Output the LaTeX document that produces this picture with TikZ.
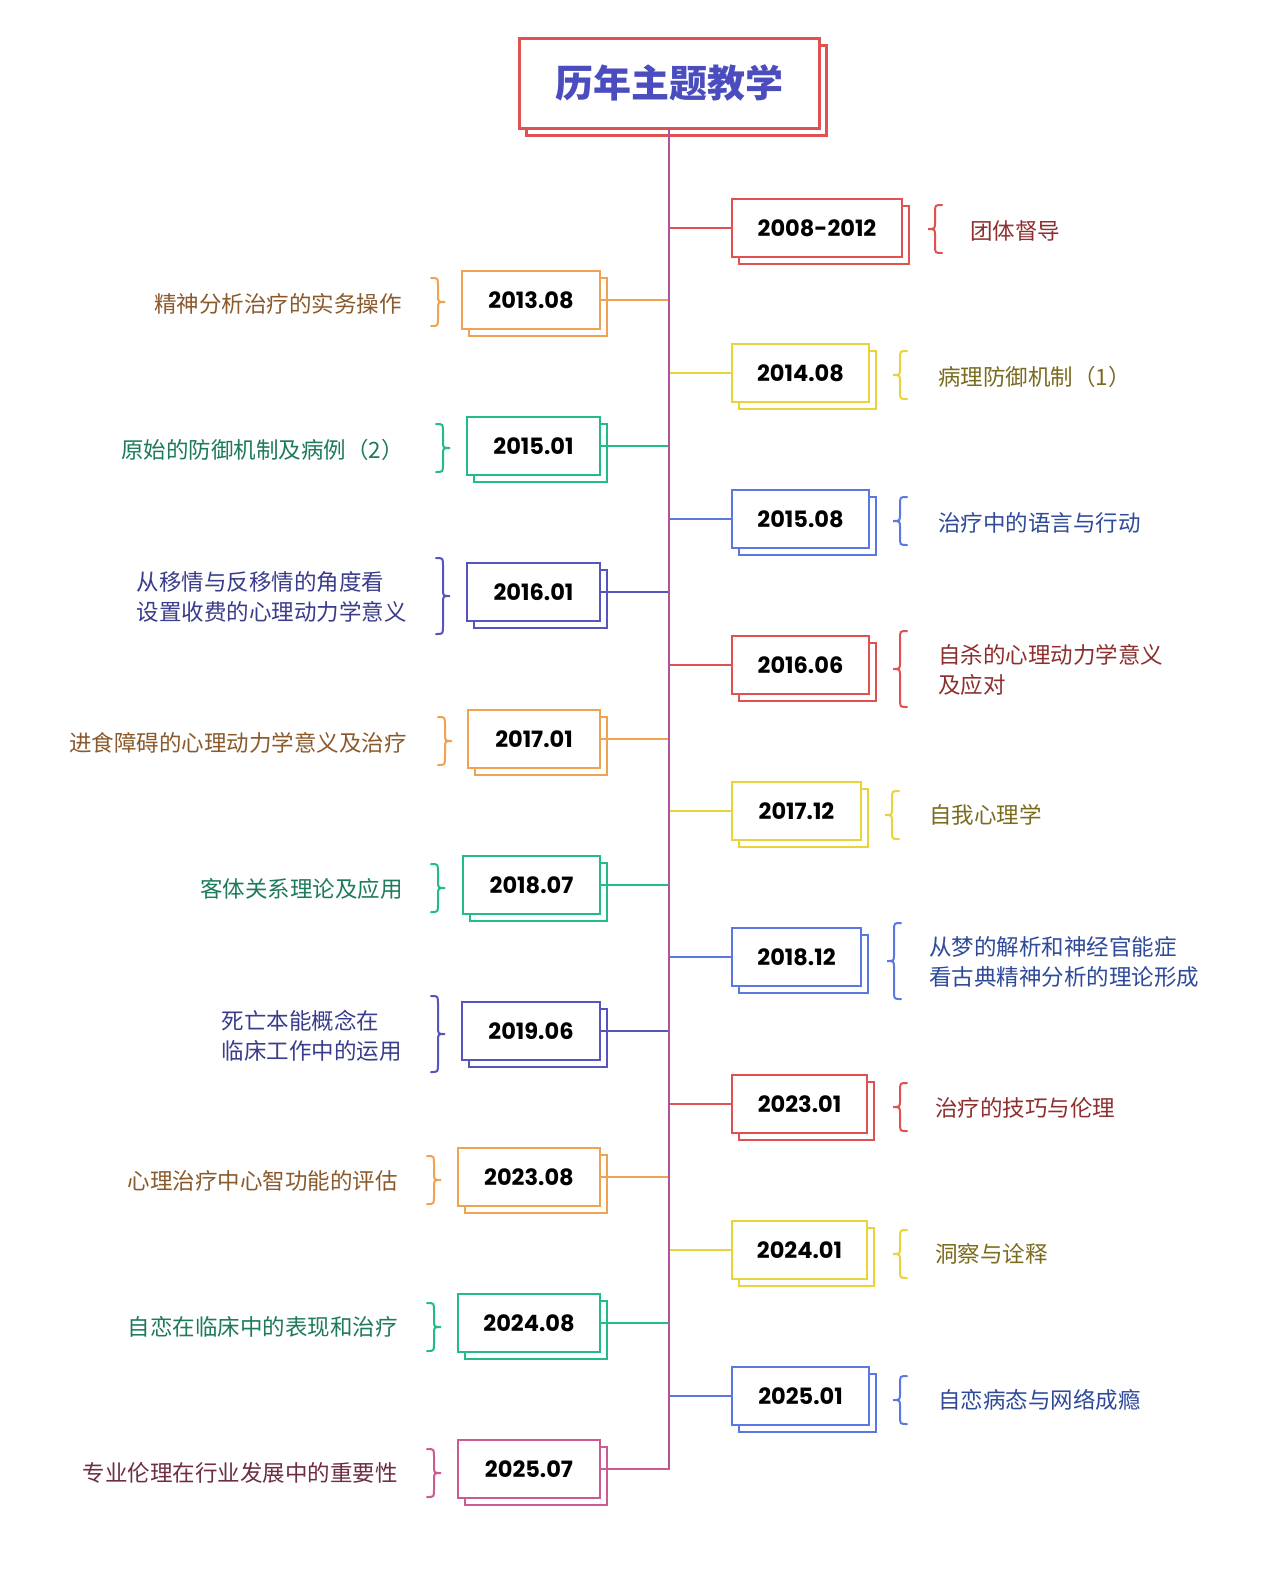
\documentclass[tikz,border=0pt]{standalone}
\usepackage{fontspec}
\setmainfont{Noto Sans CJK SC}
\newfontfamily\cjk{Noto Sans CJK SC}
\newfontfamily\datefont{Poppins}
\usetikzlibrary{calc}
\definecolor{cRed}{HTML}{E05252}
\definecolor{cOrange}{HTML}{EFA24F}
\definecolor{cYellow}{HTML}{E9D33A}
\definecolor{cGreen}{HTML}{22BB8C}
\definecolor{cBlue}{HTML}{5A78E2}
\definecolor{cIndigo}{HTML}{5655BE}
\definecolor{cMagenta}{HTML}{CC5A95}
\definecolor{cTrunk}{HTML}{AE549A}
\definecolor{cTitle}{HTML}{4B4DBF}
\definecolor{tRed}{HTML}{8E2F2F}
\definecolor{tOrange}{HTML}{8A5A2C}
\definecolor{tYellow}{HTML}{7A6B1F}
\definecolor{tGreen}{HTML}{1D7A5C}
\definecolor{tBlue}{HTML}{2E4A99}
\definecolor{tIndigo}{HTML}{3A3C8C}
\definecolor{tMagenta}{HTML}{6E2D45}
\tikzset{
  datebox/.style={draw=#1, line width=2.5pt, fill=white, minimum height=58pt, inner sep=0pt,
    font=\datefont\bfseries\fontsize{22.5}{26}\selectfont, text=black},
  shadowbox/.style={draw=#1, line width=2.5pt, fill=white},
  branch/.style={draw=#1, line width=2pt},
  brc/.style={draw=#1, line width=2pt, line cap=round},
  rlabel/.style={anchor=west, inner sep=0pt, text=#1, font=\cjk\fontsize{22.5}{30}\selectfont, align=left},
  llabel/.style={anchor=east, inner sep=0pt, text=#1, font=\cjk\fontsize{22.5}{30}\selectfont, align=left},
}
% #1 name, #2 cx, #3 cy, #4 width, #5 colour, #6 text
\newcommand\ditem[6]{%
  \draw[shadowbox=#5] ({#2-#4/2+7},{#3-29+7}) rectangle ({#2+#4/2+7},{#3+29+7});
  \node[datebox=#5, minimum width=#4pt] (#1) at (#2,#3) {#6};
}
% "{" brace: #1 tip x, #2 cy, #3 height, #4 colour
\newcommand\bropen[4]{%
  \draw[brc=#4] ({#1+14},{#2-#3/2}) .. controls ({#1+7},{#2-#3/2}) .. ({#1+7},{#2-#3/2+8})
    -- ({#1+7},{#2-7}) .. controls ({#1+7},{#2}) .. (#1,#2)
    .. controls ({#1+7},{#2}) .. ({#1+7},{#2+7})
    -- ({#1+7},{#2+#3/2-8}) .. controls ({#1+7},{#2+#3/2}) .. ({#1+14},{#2+#3/2});
}
% "}" brace: #1 tip x, #2 cy, #3 height, #4 colour
\newcommand\brclose[4]{%
  \draw[brc=#4] ({#1-14},{#2-#3/2}) .. controls ({#1-7},{#2-#3/2}) .. ({#1-7},{#2-#3/2+8})
    -- ({#1-7},{#2-7}) .. controls ({#1-7},{#2}) .. (#1,#2)
    .. controls ({#1-7},{#2}) .. ({#1-7},{#2+7})
    -- ({#1-7},{#2+#3/2-8}) .. controls ({#1-7},{#2+#3/2}) .. ({#1-14},{#2+#3/2});
}
\begin{document}
\begin{tikzpicture}[x=1pt,y=-1pt]
\useasboundingbox[fill=white] (0,0) rectangle (1271,1569);
% title
\draw[line width=3pt, draw=cRed, fill=white] (526,45) rectangle (826,135);
\node[draw=cRed, line width=3pt, fill=white, minimum width=300pt, minimum height=90pt, inner sep=0pt,
  text=cTitle, font=\cjk\bfseries\fontsize{38}{40}\selectfont] (title) at (669,83) {历年主题教学};

% date boxes
\ditem{a1}{817}{228}{170}{cRed}{2008-2012}
\ditem{a2}{531}{300}{138}{cOrange}{2013.08}
\ditem{a3}{800.5}{373}{137}{cYellow}{2014.08}
\ditem{a4}{533.5}{446}{133}{cGreen}{2015.01}
\ditem{a5}{800.5}{519}{137}{cBlue}{2015.08}
\ditem{a6}{533.5}{592}{133}{cIndigo}{2016.01}
\ditem{a7}{800.5}{665}{137}{cRed}{2016.06}
\ditem{a8}{534}{739}{132}{cOrange}{2017.01}
\ditem{a9}{796.5}{811}{129}{cYellow}{2017.12}
\ditem{a10}{531.5}{885}{137}{cGreen}{2018.07}
\ditem{a11}{796.5}{957}{129}{cBlue}{2018.12}
\ditem{a12}{531}{1031}{138}{cIndigo}{2019.06}
\ditem{a13}{799.5}{1104}{135}{cRed}{2023.01}
\ditem{a14}{529}{1177}{142}{cOrange}{2023.08}
\ditem{a15}{799.5}{1250}{135}{cYellow}{2024.01}
\ditem{a16}{529}{1323}{142}{cGreen}{2024.08}
\ditem{a17}{800.5}{1396}{137}{cBlue}{2025.01}
\ditem{a18}{529}{1469}{142}{cMagenta}{2025.07}

% branches
\draw[branch=cRed] (a1.west -| title.south) -- (a1.west);
\draw[branch=cOrange] (a2.east -| title.south) -- (a2.east);
\draw[branch=cYellow] (a3.west -| title.south) -- (a3.west);
\draw[branch=cGreen] (a4.east -| title.south) -- (a4.east);
\draw[branch=cBlue] (a5.west -| title.south) -- (a5.west);
\draw[branch=cIndigo] (a6.east -| title.south) -- (a6.east);
\draw[branch=cRed] (a7.west -| title.south) -- (a7.west);
\draw[branch=cOrange] (a8.east -| title.south) -- (a8.east);
\draw[branch=cYellow] (a9.west -| title.south) -- (a9.west);
\draw[branch=cGreen] (a10.east -| title.south) -- (a10.east);
\draw[branch=cBlue] (a11.west -| title.south) -- (a11.west);
\draw[branch=cIndigo] (a12.east -| title.south) -- (a12.east);
\draw[branch=cRed] (a13.west -| title.south) -- (a13.west);
\draw[branch=cOrange] (a14.east -| title.south) -- (a14.east);
\draw[branch=cYellow] (a15.west -| title.south) -- (a15.west);
\draw[branch=cGreen] (a16.east -| title.south) -- (a16.east);
\draw[branch=cBlue] (a17.west -| title.south) -- (a17.west);
% trunk
\draw[branch=cTrunk] (title.south) -- (a18.east -| title.south);
\draw[branch=cMagenta, line join=miter] ([yshift=-1pt]a18.east -| title.south) |- (a18.east);

% braces
\bropen{928}{229}{48}{cRed}
\brclose{445}{302}{48}{cOrange}
\bropen{893}{375}{48}{cYellow}
\brclose{450}{448}{48}{cGreen}
\bropen{893}{521}{48}{cBlue}
\brclose{450}{596}{76}{cIndigo}
\bropen{893}{669}{76}{cRed}
\brclose{452}{741}{48}{cOrange}
\bropen{885}{815}{48}{cYellow}
\brclose{445}{888}{48}{cGreen}
\bropen{887}{961}{76}{cBlue}
\brclose{445}{1034}{76}{cIndigo}
\bropen{893}{1107}{48}{cRed}
\brclose{441}{1180}{48}{cOrange}
\bropen{893}{1254}{48}{cYellow}
\brclose{441}{1327}{48}{cGreen}
\bropen{893}{1400}{48}{cBlue}
\brclose{441}{1473}{48}{cMagenta}

% labels
\node[rlabel=tRed] (l1) at (970,231) {团体督导};
\node[llabel=tOrange] (l2) at (402,304) {精神分析治疗的实务操作};
\node[rlabel=tYellow] (l3) at (938,377) {病理防御机制（1）};
\node[llabel=tGreen] (l4) at (404,450) {原始的防御机制及病例（2）};
\node[rlabel=tBlue] (l5) at (938,523) {治疗中的语言与行动};
\node[llabel=tIndigo] (l6) at (407,597) {从移情与反移情的角度看\\设置收费的心理动力学意义};
\node[rlabel=tRed] (l7) at (938,670) {自杀的心理动力学意义\\及应对};
\node[llabel=tOrange] (l8) at (407,743) {进食障碍的心理动力学意义及治疗};
\node[rlabel=tYellow] (l9) at (929,815) {自我心理学};
\node[llabel=tGreen] (l10) at (403,889) {客体关系理论及应用};
\node[rlabel=tBlue] (l11) at (929,962) {从梦的解析和神经官能症\\看古典精神分析的理论形成};
\node[llabel=tIndigo] (l12) at (402,1036) {死亡本能概念在\\临床工作中的运用};
\node[rlabel=tRed] (l13) at (935,1108) {治疗的技巧与伦理};
\node[llabel=tOrange] (l14) at (398,1181) {心理治疗中心智功能的评估};
\node[rlabel=tYellow] (l15) at (935,1254) {洞察与诠释};
\node[llabel=tGreen] (l16) at (398,1327) {自恋在临床中的表现和治疗};
\node[rlabel=tBlue] (l17) at (938,1400) {自恋病态与网络成瘾};
\node[llabel=tMagenta] (l18) at (398,1473) {专业伦理在行业发展中的重要性};
\end{tikzpicture}
\end{document}
